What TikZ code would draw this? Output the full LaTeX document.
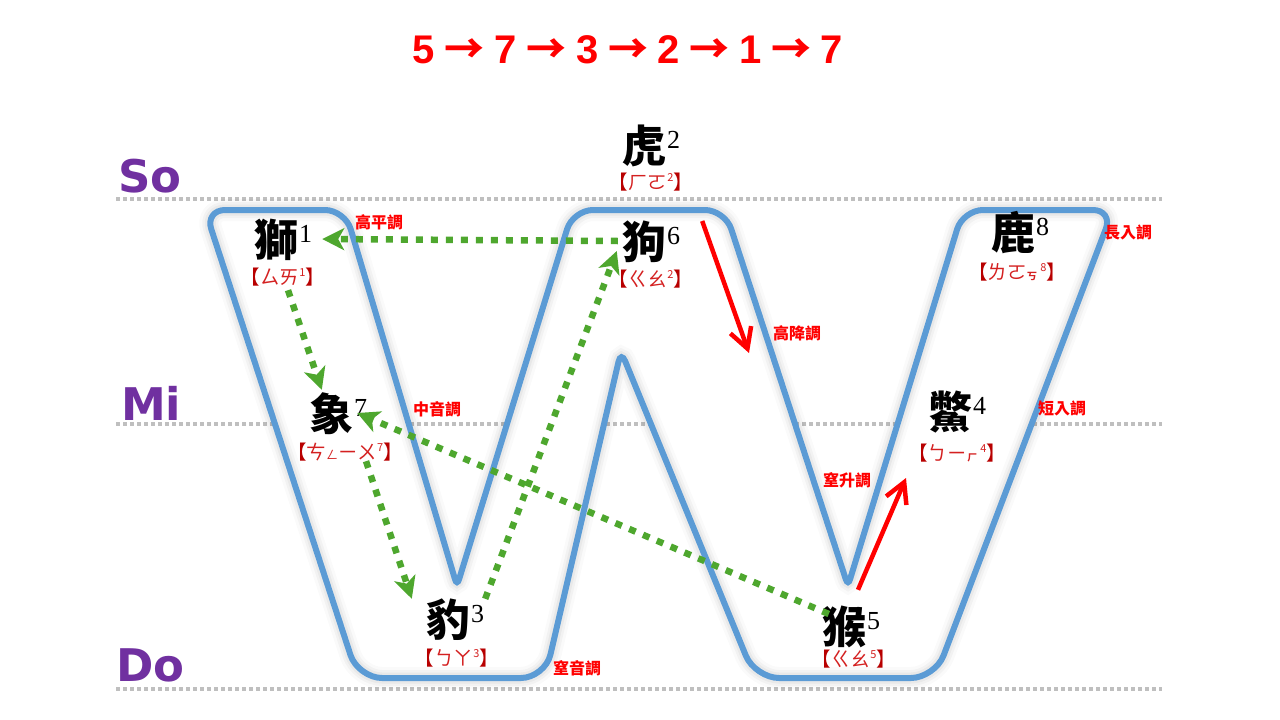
\documentclass[tikz,border=0pt]{standalone}
\usepackage{fontspec}
\usetikzlibrary{arrows.meta,calc}
\setmainfont{Liberation Serif}
\newfontfamily\cjk{Noto Sans CJK TC}
\newfontfamily\dvs{DejaVu Sans}
\newfontfamily\lsans{Liberation Sans}
\definecolor{wblue}{HTML}{5B9BD5}
\definecolor{ggreen}{HTML}{4EA72E}
\definecolor{dgray}{HTML}{BFBFBF}
\definecolor{purp}{HTML}{7030A0}
\definecolor{bkt}{HTML}{B80000}
\definecolor{bpm}{HTML}{D42020}
\definecolor{tred}{HTML}{FF0000}
\newcommand\hz[2]{#1\kern1pt\raisebox{14pt}{\fontsize{26}{26}\selectfont\rmfamily\mdseries #2}}
\newcommand\bp[2]{\textcolor{bkt}{【}\textcolor{bpm}{#1\raisebox{8pt}{\fontsize{11}{11}\selectfont #2}}\textcolor{bkt}{】}}
\newcommand\smbp[1]{{\fontsize{12}{12}\selectfont #1}}
\newcommand\tarr{\hspace{9.7pt}{\cjk\bfseries\fontsize{40}{40}\selectfont →}\hspace{9.7pt}}
% rounded corner at #2 between #1 and #3, cut #4, control #5
\newcommand\rc[5]{-- ($(#2)!#4!(#1)$) .. controls ($(#2)!#5!(#1)$) and ($(#2)!#5!(#3)$) .. ($(#2)!#4!(#3)$)}
\newcommand\Wshape{($(wA)!0.5!(wB)$)
  \rc{wA}{wB}{wC}{20pt}{9pt} \rc{wB}{wC}{wD}{7pt}{3pt} \rc{wC}{wD}{wE}{20pt}{9pt}
  \rc{wD}{wE}{wF}{20pt}{9pt} \rc{wE}{wF}{wG}{7pt}{3pt} \rc{wF}{wG}{wH}{20pt}{9pt}
  \rc{wG}{wH}{wI}{20pt}{9pt} \rc{wH}{wI}{wJ}{24pt}{11pt} \rc{wI}{wJ}{wK}{24pt}{11pt}
  \rc{wJ}{wK}{wL}{11pt}{5pt} \rc{wK}{wL}{wM}{24pt}{11pt} \rc{wL}{wM}{wA}{24pt}{11pt}
  \rc{wM}{wA}{wB}{20pt}{9pt} -- cycle}
\tikzset{
  charnode/.style={inner sep=0pt, minimum width=60pt, text height=37pt, text depth=3pt,
    font=\fontsize{44}{44}\selectfont\cjk\bfseries},
  bpnode/.style={inner sep=0pt, text height=16pt, text depth=2pt,
    font=\fontsize{19.5}{19.5}\selectfont\cjk},
  tonelbl/.style={inner sep=0pt, text height=13.4pt, text depth=1pt, text=tred,
    font=\fontsize{16}{16}\selectfont\cjk\bfseries},
  solfa/.style={inner sep=0pt, anchor=base west, text=purp,
    font=\fontsize{45}{45}\selectfont\dvs\bfseries},
  gridline/.style={dgray, line width=3.5pt, dash pattern=on 4pt off 3pt},
  wline/.style={wblue, line width=6pt},
  garrow/.style={ggreen, line width=6.5pt, dash pattern=on 7pt off 8pt,
    -{Stealth[length=22pt,width=22pt,inset=6pt]}},
  rarrow/.style={tred, line width=4.5pt, -{Straight Barb[length=20pt,width=22pt]}},
}
\begin{document}
\begin{tikzpicture}[x=1pt,y=-1pt]
\useasboundingbox (0,0) rectangle (1280,720);
% title
\node[inner sep=0pt, text height=28.6pt, text depth=0pt, text=tred,
  font=\fontsize{40}{40}\selectfont\lsans\bfseries] (title) at (628,49)
  {5\tarr 7\tarr 3\tarr 2\tarr 1\tarr 7};
% staff lines
\draw[gridline] (116,199) -- (1162,199);
\draw[gridline] (116,424) -- (1162,424);
\draw[gridline] (116,689) -- (1162,689);
\node[solfa] (so) at (118,192) {So};
\node[solfa] (mi) at (121,420) {Mi};
\node[solfa] (do) at (116,681) {Do};
% W shape corner points
\coordinate (wA) at (205,210);
\coordinate (wB) at (345,210);
\coordinate (wC) at (457,586);
\coordinate (wD) at (573,210);
\coordinate (wE) at (725,210);
\coordinate (wF) at (848,586);
\coordinate (wG) at (963,210);
\coordinate (wH) at (1113,210);
\coordinate (wI) at (935,678);
\coordinate (wJ) at (755,678);
\coordinate (wK) at (621,351);
\coordinate (wL) at (545,678);
\coordinate (wM) at (358,678);
\fill[white] \Wshape;
\foreach \w/\o in {22/0.02,16/0.03,11/0.04}
  \draw[black, opacity=\o, line width=\w pt, shift={(2,3)}] \Wshape;
\draw[wline] \Wshape;
% characters
\node[charnode] (shi) at (283,239) {\hz{獅}{1}};
\node[bpnode] (shibp) at (283,277) {\bp{ㄙㄞ}{1}};
\node[charnode] (hu) at (651,145) {\hz{虎}{2}};
\node[bpnode] (hubp) at (651,182) {\bp{ㄏㄛ}{2}};
\node[charnode] (gou) at (651,241) {\hz{狗}{6}};
\node[bpnode] (goubp) at (651,279) {\bp{ㄍㄠ}{2}};
\node[charnode] (lu) at (1020,232) {\hz{鹿}{8}};
\node[bpnode] (lubp) at (1017,272) {\bp{ㄌㄛㆶ\kern2pt}{8}};
\node[charnode] (xiang) at (338,413) {\hz{象}{7}};
\node[bpnode] (xiangbp) at (345,452) {\bp{ㄘ\smbp{ㄥ}ㄧㄨ}{7}};
\node[charnode] (bie) at (957,411) {\hz{鱉}{4}};
\node[bpnode] (biebp) at (957,453) {\bp{ㄅㄧㆷ\kern2pt}{4}};
\node[charnode] (bao) at (455,619) {\hz{豹}{3}};
\node[bpnode] (baobp) at (457,658) {\bp{ㄅㄚ}{3}};
\node[charnode] (hou) at (851,626) {\hz{猴}{5}};
\node[bpnode] (houbp) at (854,659) {\bp{ㄍㄠ}{5}};
% tone labels
\node[tonelbl] (t1) at (379,222) {高平調};
\node[tonelbl] (t2) at (437,409) {中音調};
\node[tonelbl] (t3) at (577,668) {窒音調};
\node[tonelbl] (t4) at (797,333) {高降調};
\node[tonelbl] (t5) at (847,480) {窒升調};
\node[tonelbl] (t6) at (1128,232) {長入調};
\node[tonelbl] (t7) at (1062,408) {短入調};
% green arrows
\draw[garrow] ([xshift=-3pt]gou.west) -- ([xshift=9pt]shi.east);
\draw[garrow] ([xshift=5pt,yshift=-4pt]shibp.south) -- ([xshift=14pt,yshift=3pt]xiang.north west);
\draw[garrow] ([xshift=21pt]xiangbp.south) -- ([xshift=-13pt]bao.north west);
\draw[garrow] (bao.north east) -- ([xshift=-4pt,yshift=-10pt]gou.west);
\draw[garrow] ([xshift=8pt,yshift=12pt]hou.west) -- ([xshift=-11pt]xiang.east);
% red arrows
\coordinate (fallEnd) at (749,353);
\coordinate (riseEnd) at (906,478);
\draw[rarrow] ([xshift=21pt,yshift=20pt]gou.east) -- (fallEnd);
\draw[rarrow] ([xshift=7pt,yshift=16pt]hou.north) -- (riseEnd);
\end{tikzpicture}
\end{document}
